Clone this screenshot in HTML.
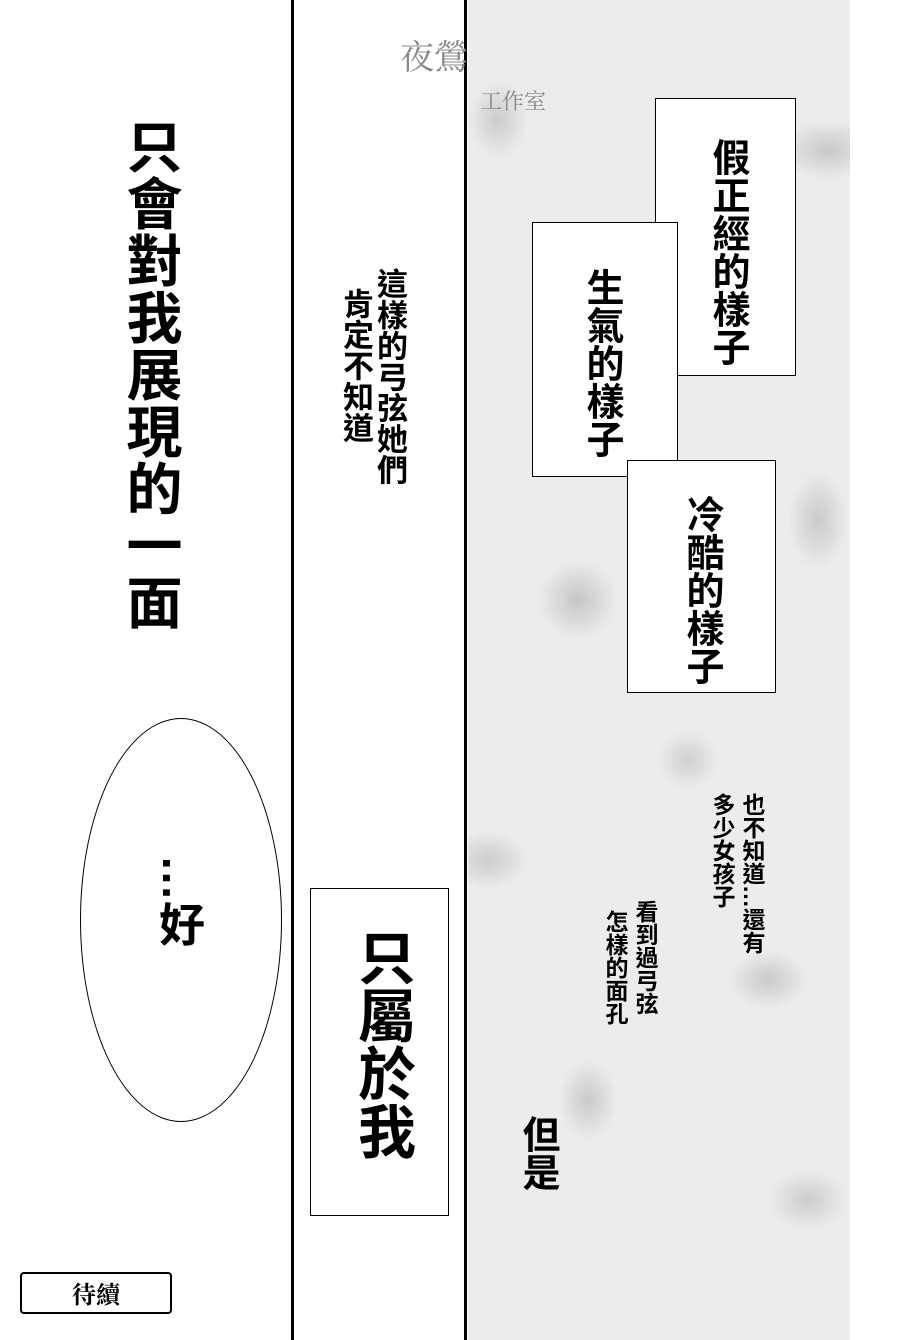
<!DOCTYPE html>
<html><head><meta charset="utf-8"><style>
body{margin:0;width:900px;height:1340px;background:#fff;position:relative;overflow:hidden;font-family:"Liberation Sans","Noto Sans CJK TC",sans-serif;color:#000}
.a{position:absolute}
.v{writing-mode:vertical-rl;font-weight:bold;line-height:1}
.box{position:absolute;background:#fff;border:1.5px solid #000}
</style></head><body>
<div class="a" style="left:468px;top:0;width:382px;height:1340px;background:
radial-gradient(ellipse 40px 30px at 520px 60px,#c8c8c8,transparent),
radial-gradient(ellipse 30px 40px at 30px 120px,#ccc,transparent),
radial-gradient(ellipse 50px 30px at 360px 150px,#c8c8c8,transparent),
radial-gradient(ellipse 40px 40px at 110px 600px,#c6c6c6,transparent),
radial-gradient(ellipse 30px 50px at 350px 520px,#cacaca,transparent),
radial-gradient(ellipse 40px 30px at 20px 860px,#ccc,transparent),
radial-gradient(ellipse 40px 30px at 300px 980px,#cacaca,transparent),
radial-gradient(ellipse 30px 40px at 120px 1100px,#cacaca,transparent),
radial-gradient(ellipse 40px 30px at 340px 1200px,#ccc,transparent),
radial-gradient(ellipse 30px 30px at 220px 760px,#d0d0d0,transparent),
#ececec"></div>
<div class="a" style="left:291px;top:0;width:3px;height:1340px;background:#000"></div>
<div class="a" style="left:464px;top:0;width:3px;height:1340px;background:#000"></div>

<div class="a v" style="left:122px;top:118px;font-size:56px;letter-spacing:1px">只會對我展現的一面</div>
<div class="a" style="left:80px;top:718px;width:200px;height:402px;border:1.5px solid #000;border-radius:50%;background:#fff"></div>
<div class="a v" style="left:156px;top:855px;font-size:46px">…好</div>

<div class="a v" style="left:374px;top:268px;font-size:31px">這樣的弓弦她們</div>
<div class="a v" style="left:340px;top:288px;font-size:31px">肯定不知道</div>

<div class="box" style="left:310px;top:888px;width:137px;height:326px"></div>
<div class="a v" style="left:352px;top:928px;font-size:58px">只屬於我</div>

<div class="box" style="left:655px;top:98px;width:139px;height:276px"></div>
<div class="box" style="left:532px;top:222px;width:144px;height:253px"></div>
<div class="box" style="left:627px;top:460px;width:147px;height:231px"></div>
<div class="a v" style="left:708px;top:138px;font-size:38px">假正經的樣子</div>
<div class="a v" style="left:582px;top:268px;font-size:38px">生氣的樣子</div>
<div class="a v" style="left:682px;top:495px;font-size:38px">冷酷的樣子</div>

<div class="a v" style="left:740px;top:793px;font-size:23px">也不知道…還有</div>
<div class="a v" style="left:710px;top:793px;font-size:23px">多少女孩子</div>
<div class="a v" style="left:633px;top:900px;font-size:23px">看到過弓弦</div>
<div class="a v" style="left:603px;top:910px;font-size:23px">怎樣的面孔</div>
<div class="a v" style="left:518px;top:1115px;font-size:38px">但是</div>

<div class="a" style="left:20px;top:1272px;width:148px;height:38px;border:2px solid #000;border-radius:4px;background:#fff;font-size:24px;font-weight:bold;text-align:center;line-height:38px;font-family:'Noto Serif CJK SC',serif">待續</div>
<div class="a" style="left:400px;top:30px;font-size:34px;color:#888;font-family:'Noto Serif CJK SC',serif">夜鶯</div>
<div class="a" style="left:480px;top:85px;font-size:22px;color:#888;font-family:'Noto Serif CJK SC',serif">工作室</div>
</body></html>
